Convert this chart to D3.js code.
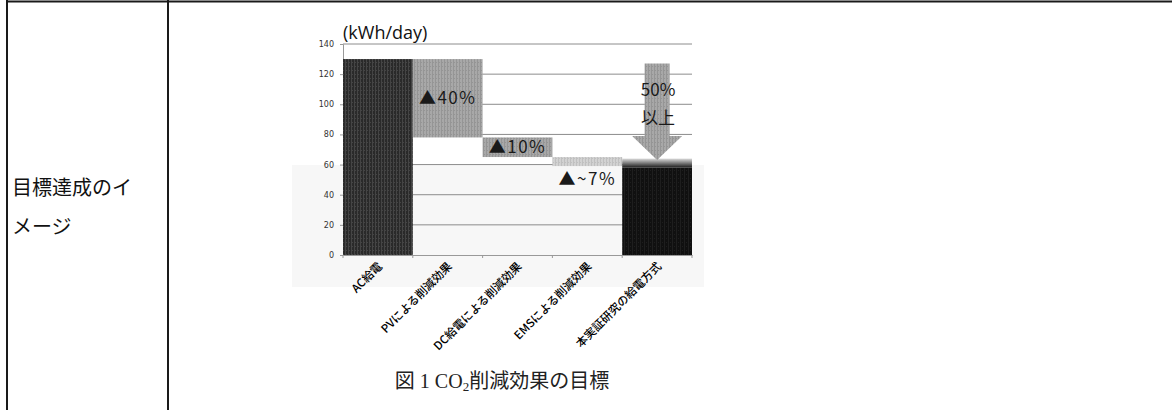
<!DOCTYPE html>
<html lang="ja">
<head>
<meta charset="utf-8">
<script src="https://cdn.jsdelivr.net/npm/d3@7"></script>
<style>
  html, body { margin: 0; padding: 0; background: #fff; }
  svg { display: block; }
  text { -webkit-font-smoothing: antialiased; }
</style>
</head>
<body>
<svg id="chart" width="1172" height="410"></svg>
<script>
// Waterfall of daily energy use (kWh/day) from AC supply down to the proposed scheme
const categories = ["AC給電", "PVによる削減効果", "DC給電による削減効果", "EMSによる削減効果", "本実証研究の給電方式"];
const barStart   = [0, 130, 78, 65, 0];
const barEnd     = [130, 78, 65, 59, 58];
const barLabels  = ["", "▲40%", "▲10%", "▲~7%", ""];
const yTicks     = [0, 20, 40, 60, 80, 100, 120, 140];
const arrowFrom  = 127;   // reduction arrow over the last column
const arrowTo    = 63;
const arrowLabel = ["50%", "以上"];
const rowLabel   = ["目標達成のイ", "メージ"];

const svg = d3.select("#chart");
const defs = svg.append("defs");

// scanned-print textures
function stripes(id, base, line, w) {
  const p = defs.append("pattern").attr("id", id).attr("patternUnits", "userSpaceOnUse")
    .attr("width", w).attr("height", 4);
  p.append("rect").attr("width", w).attr("height", 4).attr("fill", base);
  p.append("rect").attr("width", 1).attr("height", 4).attr("fill", line);
  p.append("rect").attr("x", Math.floor(w / 2)).attr("y", 2).attr("width", 1).attr("height", 1).attr("fill", line);
}
stripes("texDark", "#2a2a2a", "#454545", 3);
stripes("texMid", "#a8a8a8", "#959595", 3);
stripes("texLight", "#d2d2d2", "#c0c0c0", 3);
stripes("texBlack", "#101010", "#1e1e1e", 4);
const cap = defs.append("linearGradient").attr("id", "capFade").attr("x1", 0).attr("x2", 0).attr("y1", 0).attr("y2", 1);
cap.append("stop").attr("offset", "0%").attr("stop-color", "#dcdcdc");
cap.append("stop").attr("offset", "100%").attr("stop-color", "#1a1a1a");

// table frame
const frame = svg.append("g").attr("stroke", "#1a1a1a").attr("stroke-width", 2);
frame.append("line").attr("x1", 6).attr("x2", 1172).attr("y1", 1.5).attr("y2", 1.5);
frame.append("line").attr("x1", 7).attr("x2", 7).attr("y1", 0).attr("y2", 410);
frame.append("line").attr("x1", 168).attr("x2", 168).attr("y1", 0).attr("y2", 410);

svg.append("g").selectAll("text").data(rowLabel).join("text")
  .attr("x", 12).attr("y", (d, i) => 195 + i * 39)
  .attr("font-family", "'Noto Sans CJK JP', sans-serif").attr("font-size", 20)
  .attr("fill", "#111").text(d => d);

// faint scan haze behind the lower plot area
svg.append("rect").attr("x", 292).attr("y", 165).attr("width", 412).attr("height", 122)
  .attr("fill", "#f7f7f7");

// scales
const x = d3.scaleBand().domain(categories).range([343, 692]).padding(0);
const y = d3.scaleLinear().domain([0, 140]).range([255, 44]);

// gridlines
svg.append("g").selectAll("line").data(yTicks.filter(t => t > 0)).join("line")
  .attr("x1", x.range()[0]).attr("x2", x.range()[1])
  .attr("y1", d => y(d)).attr("y2", d => y(d))
  .attr("stroke", "#8c8c8c").attr("stroke-width", 1);

// y axis
const yAxis = svg.append("g").attr("transform", `translate(${x.range()[0]},0)`)
  .call(d3.axisLeft(y).tickValues(yTicks).tickSize(3).tickPadding(6));
yAxis.select(".domain").attr("stroke", "#999");
yAxis.selectAll(".tick line").attr("stroke", "#999");
yAxis.selectAll("text").attr("font-family", "'DejaVu Sans', sans-serif").attr("font-size", 8)
  .attr("fill", "#333");

// bars
const fills = ["url(#texDark)", "url(#texMid)", "url(#texMid)", "url(#texLight)", "url(#texBlack)"];
const idx = d3.range(categories.length);
svg.append("g").selectAll("rect").data(idx).join("rect")
  .attr("x", i => x(categories[i]))
  .attr("width", x.bandwidth())
  .attr("y", i => y(Math.max(barStart[i], barEnd[i])))
  .attr("height", i => Math.abs(y(barStart[i]) - y(barEnd[i])))
  .attr("fill", i => fills[i]);

// soft top edge of the final column
const last = categories[categories.length - 1];
svg.append("rect").attr("x", x(last)).attr("width", x.bandwidth())
  .attr("y", y(arrowTo + 1)).attr("height", y(barEnd[4]) - y(arrowTo + 1))
  .attr("fill", "url(#capFade)");

// x axis
const xAxis = svg.append("g").attr("transform", `translate(0,${y(0)})`)
  .call(d3.axisBottom(x).tickSize(0).tickFormat(""));
xAxis.select(".domain").attr("stroke", "#999");
svg.append("g").selectAll("line").data(d3.range(categories.length + 1)).join("line")
  .attr("x1", i => x.range()[0] + i * x.step()).attr("x2", i => x.range()[0] + i * x.step())
  .attr("y1", y(0)).attr("y2", y(0) + 3).attr("stroke", "#999");

svg.append("g").selectAll("text").data(categories).join("text")
  .attr("transform", d => `translate(${x(d) + x.bandwidth() / 2 + 5},${y(0) + 12}) rotate(-45)`)
  .attr("text-anchor", "end")
  .attr("font-family", "'Noto Sans CJK JP', sans-serif").attr("font-size", 11.5)
  .attr("font-weight", 500)
  .attr("fill", "#000").text(d => d);

// step labels
svg.append("g").selectAll("text").data(idx.filter(i => barLabels[i])).join("text")
  .attr("x", i => x(categories[i]) + x.bandwidth() / 2)
  .attr("y", i => i === 3 ? y(barEnd[i]) + 19 : (y(barStart[i]) + y(barEnd[i])) / 2 + 6)
  .attr("text-anchor", "middle")
  .attr("font-family", "'Noto Sans CJK JP', sans-serif").attr("font-size", 17)
  .attr("letter-spacing", 1.5)
  .attr("fill", "#1a1a1a").text(i => barLabels[i]);

// reduction arrow
const cx = x(last) + x.bandwidth() / 2;
const headBase = y(arrowTo) - 24;
const arrowPath = d3.path();
arrowPath.moveTo(cx - 12.5, y(arrowFrom));
arrowPath.lineTo(cx + 12.5, y(arrowFrom));
arrowPath.lineTo(cx + 12.5, headBase);
arrowPath.lineTo(cx + 25, headBase);
arrowPath.lineTo(cx, y(arrowTo));
arrowPath.lineTo(cx - 25, headBase);
arrowPath.lineTo(cx - 12.5, headBase);
arrowPath.closePath();
svg.append("path").attr("d", arrowPath.toString()).attr("fill", "url(#texMid)");

svg.append("g").selectAll("text").data(arrowLabel).join("text")
  .attr("x", cx + 1).attr("y", (d, i) => 96 + i * 28)
  .attr("text-anchor", "middle")
  .attr("font-family", "'Noto Sans CJK JP', sans-serif").attr("font-size", 17)
  .attr("fill", "#1a1a1a").text(d => d);

// unit label
svg.append("text").attr("x", x.range()[0]).attr("y", 39)
  .attr("font-family", "'Open Sans', sans-serif").attr("font-size", 18)
  .attr("fill", "#111").text("(kWh/day)");

// figure caption
const capText = svg.append("text").attr("x", 502).attr("y", 388).attr("text-anchor", "middle")
  .attr("font-family", "'Liberation Serif', 'Noto Sans CJK JP', serif").attr("font-size", 20)
  .attr("fill", "#222");
capText.append("tspan").text("図 1 CO");
capText.append("tspan").attr("font-size", 13).attr("dy", 3).text("2");
capText.append("tspan").attr("dy", -3).text("削減効果の目標");
</script>
</body>
</html>
